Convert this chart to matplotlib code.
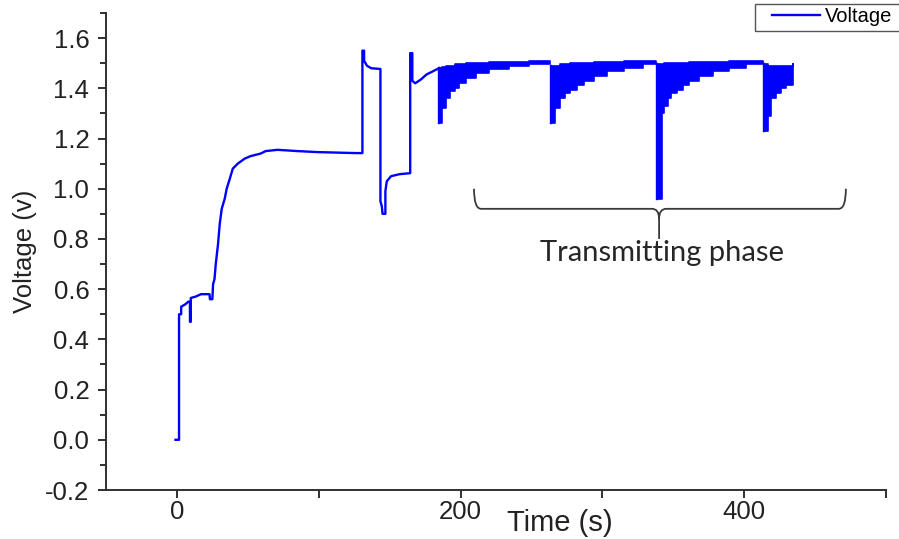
import matplotlib
matplotlib.use("Agg")
import matplotlib.pyplot as plt
from matplotlib.path import Path
from matplotlib.patches import PathPatch, Rectangle
from matplotlib.ticker import MultipleLocator, FixedLocator

plt.rcParams['font.family'] = ['Liberation Sans', 'DejaVu Sans']

# charging trace before the transmitting phase (time s, voltage V)
time_s = [-1, 1.5, 1.5, 3, 3, 6, 8, 9.2, 9.2, 9.8, 9.8, 13, 17, 23, 23.3,
          25, 25.5, 26.5, 27.4, 29, 30.2, 31.6, 33.7, 35.1, 37.3, 39.4,
          42.9, 47.8, 52, 59, 62.6, 71, 85, 99, 126, 130.8,
          130.8, 132, 132, 134, 137, 143.5, 143.5, 144.5, 145, 147, 147,
          148, 151, 157, 164.5, 164.5, 166, 166, 168, 172, 176, 183, 185]
voltage = [0.0, 0.0, 0.50, 0.50, 0.53, 0.54, 0.55, 0.55, 0.47, 0.47, 0.565,
           0.57, 0.58, 0.58, 0.56, 0.56, 0.62, 0.64, 0.70, 0.78, 0.86, 0.92,
           0.96, 1.00, 1.04, 1.08, 1.10, 1.12, 1.13, 1.14, 1.15, 1.155, 1.15,
           1.146, 1.142, 1.142,
           1.55, 1.55, 1.51, 1.49, 1.48, 1.477, 0.95, 0.93, 0.90, 0.90, 0.99,
           1.03, 1.05, 1.058, 1.062, 1.54, 1.54, 1.43, 1.42, 1.435, 1.455,
           1.475, 1.48]

# transmitting bursts: step times, lower and upper envelope of the pulses
burst1_t = [185, 187, 190, 192.5, 196, 199, 204, 211, 220, 234, 248, 263]
burst1_low = [1.26, 1.32, 1.36, 1.39, 1.40, 1.42, 1.44, 1.46, 1.475, 1.49, 1.495, 1.50]
burst1_high = [1.48, 1.485, 1.49, 1.49, 1.495, 1.495, 1.50, 1.50, 1.505, 1.505, 1.51, 1.50]

burst2_t = [264, 266.4, 270, 273.5, 277, 282, 287, 294, 303, 315, 329, 338]
burst2_low = [1.26, 1.32, 1.36, 1.38, 1.395, 1.415, 1.43, 1.45, 1.47, 1.48, 1.495, 1.50]
burst2_high = [1.49, 1.49, 1.495, 1.495, 1.50, 1.50, 1.50, 1.505, 1.505, 1.51, 1.51, 1.505]

burst3_t = [338.5, 341.7, 343.8, 346.6, 348.7, 352.3, 357.2, 361.3, 368.4,
            378.2, 389.5, 401.4, 413.4]
burst3_low = [0.96, 1.30, 1.33, 1.36, 1.38, 1.395, 1.415, 1.43, 1.45, 1.47,
              1.48, 1.495, 1.50]
burst3_high = [1.495, 1.495, 1.50, 1.50, 1.50, 1.50, 1.50, 1.505, 1.505,
               1.505, 1.51, 1.51, 1.505]

burst4_t = [414, 416.9, 419, 422.5, 426, 429.5, 434.5]
burst4_low = [1.23, 1.29, 1.36, 1.38, 1.40, 1.415, 1.42]
burst4_high = [1.495, 1.49, 1.49, 1.49, 1.49, 1.49, 1.495]

bursts = [(burst1_t, burst1_low, burst1_high),
          (burst2_t, burst2_low, burst2_high),
          (burst3_t, burst3_low, burst3_high),
          (burst4_t, burst4_low, burst4_high)]

# brace around the transmitting phase (data coords)
brace_x = [209.5, 340, 471.7]
brace_y = [1.0, 0.92, 0.88, 0.80]

BLUE = '#0000ff'
AXIS = '#303030'

fig = plt.figure(figsize=(8.99, 5.39), dpi=100)
ax = fig.add_axes([106 / 899, 1 - 490 / 539, 780 / 899, 477 / 539])

line, = ax.plot(time_s, voltage, color=BLUE, lw=1.7, label='Voltage')
for t, lo, hi in bursts:
    ax.fill_between(t, lo, hi, step='post', color=BLUE, lw=1.2)
    ax.plot([t[0], t[0]], [lo[0], hi[0]], color=BLUE, lw=1.7)

ax.set_xlim(-50, 500)
ax.set_ylim(-0.2, 1.7)
ax.xaxis.set_major_locator(FixedLocator([0, 200, 400]))
ax.xaxis.set_minor_locator(FixedLocator([100, 300, 500]))
ax.yaxis.set_major_locator(FixedLocator([-0.2, 0.0, 0.2, 0.4, 0.6, 0.8, 1.0, 1.2, 1.4, 1.6]))
ax.yaxis.set_minor_locator(MultipleLocator(0.1))
ax.yaxis.set_major_formatter(plt.FuncFormatter(lambda v, p: f"{v:.1f}"))

for s in ['top', 'right']:
    ax.spines[s].set_visible(False)
for s in ['left', 'bottom']:
    ax.spines[s].set_color(AXIS)
    ax.spines[s].set_linewidth(1.4)
ax.tick_params(which='major', direction='out', length=6, width=1.4, color=AXIS,
               labelsize=18.5, labelcolor='#222222')
ax.tick_params(which='minor', direction='out', length=4, width=1.4, color=AXIS)
ax.tick_params(axis='x', which='minor', length=6)
ax.tick_params(axis='x', pad=1)
ax.tick_params(axis='y', pad=6)

ax.set_ylabel('Voltage (v)', fontsize=18.5, color='#222222')
ax.yaxis.set_label_coords(-(106 - 37) / 780, 0.5)
ax.set_xlabel('Time (s)', fontsize=21, color='#222222', va='center')
ax.xaxis.set_label_coords((560 - 106) / 780, -33 / 477)

# brace
xl, xm, xr = brace_x
yt, yb, yc, ys = brace_y
verts = [(xl, yt), (xl, yb), (xl + 5, yb),
         (xm - 5, yb),
         (xm, yb), (xm, yc),
         (xm, ys),
         (xm, yc), (xm, yb), (xm + 5, yb),
         (xr - 5, yb),
         (xr, yb), (xr, yt)]
codes = [Path.MOVETO, Path.CURVE3, Path.CURVE3,
         Path.LINETO,
         Path.CURVE3, Path.CURVE3,
         Path.LINETO,
         Path.MOVETO, Path.CURVE3, Path.CURVE3,
         Path.LINETO,
         Path.CURVE3, Path.CURVE3]
ax.add_patch(PathPatch(Path(verts, codes), fill=False, edgecolor='#3a3a3a', lw=1.3))
ax.text(xm + 2, 0.745, 'Transmitting phase', ha='center', va='center',
        fontsize=21, family=['Lato', 'DejaVu Sans'], color='#262626')

# legend: box runs off the right edge like the reference
fig.patches.append(Rectangle((755 / 899, 1 - 31 / 539), 160 / 899, 27 / 539,
                             transform=fig.transFigure, fill=False,
                             edgecolor='#555555', lw=1.0))
fig.legend(handles=[line], loc='center left',
           bbox_to_anchor=(772 / 899, 1 - 17 / 539), borderaxespad=0,
           frameon=False, fontsize=14.5, handlelength=2.38,
           handletextpad=0.25, borderpad=0)

fig.savefig('out.png', dpi=100)
